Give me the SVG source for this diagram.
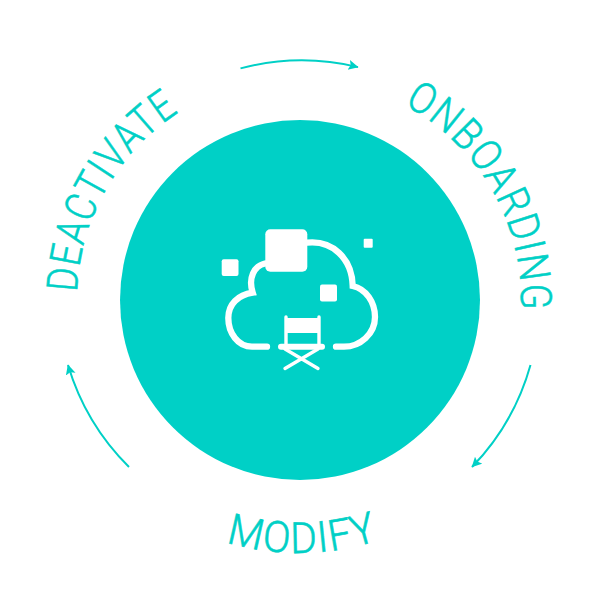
<svg xmlns="http://www.w3.org/2000/svg" width="600" height="600" viewBox="0 0 600 600">
<style>
.lbl{font-family:Roboto,"Liberation Sans",sans-serif;font-weight:300;font-size:43px;fill:#00d0c6;stroke:#00d0c6;stroke-width:.6;letter-spacing:1.5px}
.arc{fill:none;stroke:#00d0c6;stroke-width:2}
.ic{fill:none;stroke:#fff;stroke-linecap:round}
.sq{fill:#fff}
</style>
<defs>
<marker id="ah" markerUnits="userSpaceOnUse" markerWidth="12" markerHeight="12" refX="9.5" refY="5" orient="auto"><path d="M0 0L10 5L0 10L2 5Z" fill="#00d0c6"/></marker>
<path id="pO" d="M403.8 104.9A221 221 0 0 1 520.2 319"/>
<path id="pD" d="M77.1 292.2A223 223 0 0 1 200 100"/>
<path id="pM" d="M226 542A253 253 0 0 0 385 538"/>
</defs>
<g id="hub"><circle cx="300" cy="300" r="180" fill="#00d0c6"/></g>
<g id="icon">
<path class="ic" stroke-width="6.3" d="M267 346.7H252C238 346.7 228.3 333 228.3 318C228.3 304 238 295 252.7 292.7C248 278 254 266 265 263.5"/>
<path class="ic" stroke-width="6.3" d="M307 242.7C332 240 352 258 352.7 286C366 289 375 302 375 317C375 334 360 346.7 344 346.7H336"/>
<rect class="sq" x="265.3" y="229.3" width="42" height="42.4" rx="5"/>
<rect class="sq" x="221.7" y="259.3" width="16.8" height="16.8" rx="2"/>
<rect class="sq" x="320" y="284.5" width="17" height="17" rx="2"/>
<rect class="sq" x="363.7" y="238.7" width="9" height="9" rx="1"/>
<rect class="sq" x="286" y="318" width="33" height="15"/>
<path class="ic" stroke-width="3.4" d="M286 317V346M319 317V346M285 368.5L318 349M318 368.5L285 349"/>
<path class="ic" stroke-width="6" d="M281 346.7H322"/>
</g>
<g id="connectors">
<path class="arc" marker-end="url(#ah)" d="M240.5 68.4A240 240 0 0 1 358 67.1"/>
<path class="arc" marker-end="url(#ah)" d="M530.5 365A240 240 0 0 1 472 467"/>
<path class="arc" marker-end="url(#ah)" d="M129 467A240 240 0 0 1 68 365"/>
</g>
<g id="onboarding"><text class="lbl"><textPath href="#pO" textLength="250" lengthAdjust="spacingAndGlyphs">ONBOARDING</textPath></text></g>
<g id="deactivate"><text class="lbl"><textPath href="#pD" textLength="216" lengthAdjust="spacingAndGlyphs">DEACTIVATE</textPath></text></g>
<g id="modify"><text class="lbl"><textPath href="#pM" textLength="156" lengthAdjust="spacingAndGlyphs">MODIFY</textPath></text></g>
</svg>
